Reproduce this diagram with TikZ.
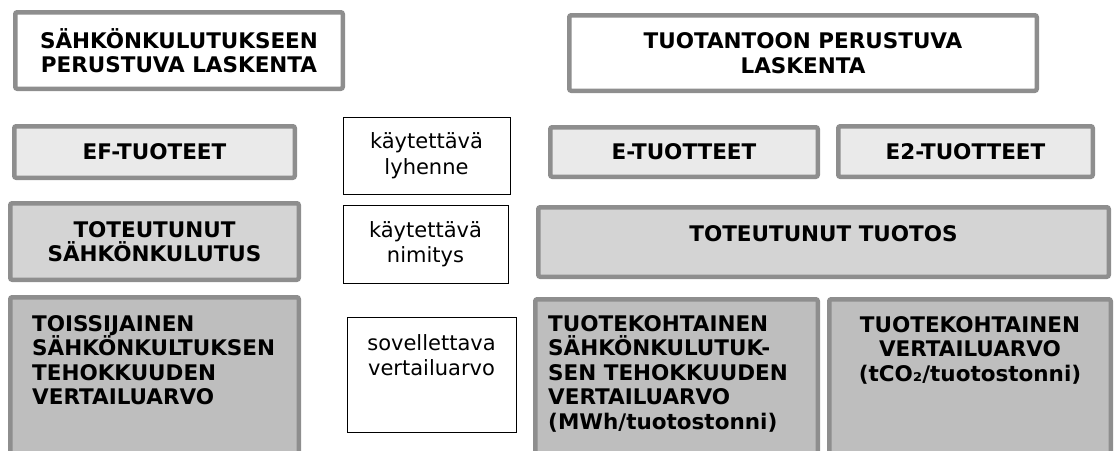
\documentclass[tikz,border=0pt]{standalone}
\usepackage{fontspec}
\setmainfont{DejaVu Sans}
\definecolor{rim}{HTML}{8E8E8E}
\definecolor{shadeA}{HTML}{EAEAEA}
\definecolor{shadeB}{HTML}{D4D4D4}
\definecolor{shadeC}{HTML}{BEBEBE}
\tikzset{
  heavy/.style={draw=rim, line width=4.5pt, rounded corners=2pt, inner sep=0pt,
    align=center, font=\fontsize{21.5}{24.5}\selectfont\bfseries},
  tier0/.style={heavy, fill=white},
  tier1/.style={heavy, fill=shadeA},
  tier2/.style={heavy, fill=shadeB},
  tier3/.style={heavy, fill=shadeC},
  keybox/.style={draw=black, line width=0.9pt, fill=white, inner sep=0pt,
    align=center, font=\fontsize{21}{25.5}\selectfont},
  keytext/.style={inner sep=0pt, align=center, font=\fontsize{21}{25.5}\selectfont},
  boldtext/.style={inner sep=0pt, font=\fontsize{21.5}{24.5}\selectfont\bfseries},
}

\begin{document}
\begin{tikzpicture}[x=1pt, y=-1pt]
\useasboundingbox (0,0) rectangle (1114,450);
\clip (0,0) rectangle (1114,450);

% left column: electricity based
\node[tier0, minimum width=327.5pt, minimum height=76.5pt] (elbase) at (179,50.5)
     {SÄHKÖNKULUTUKSEEN\\PERUSTUVA LASKENTA};
\node[tier1, minimum width=280.5pt, minimum height=51.5pt] (efprod) at (154.5,152)
     {EF-TUOTEET};
\node[tier2, minimum width=288.5pt, minimum height=76.5pt] (elreal) at (154.5,241.5)
     {TOTEUTUNUT\\SÄHKÖNKULUTUS};
\node[tier3, minimum width=288.5pt, minimum height=170.5pt] (elbench) at (154.5,382.5) {};
\node[boldtext, anchor=north west, align=left] (elbenchtext) at (32,315)
     {TOISSIJAINEN\\SÄHKÖNKULTUKSEN\\TEHOKKUUDEN\\VERTAILUARVO};

% middle column: key
\node[keybox, minimum width=167pt, minimum height=77pt] (keyabbr) at (426.5,155.5)
     {käytettävä\\lyhenne};
\node[keybox, minimum width=165pt, minimum height=78pt] (keyname) at (425.5,244)
     {käytettävä\\nimitys};
\node[keybox, minimum width=169pt, minimum height=115pt] (keybench) at (431.5,374.5) {};
\node[keytext, anchor=north] (keybenchtext) at (431.5,334)
     {sovellettava\\vertailuarvo};

% right column: production based
\node[tier0, minimum width=467.5pt, minimum height=75.5pt] (prodbase) at (803,53)
     {TUOTANTOON PERUSTUVA\\LASKENTA};
\node[tier1, minimum width=267.5pt, minimum height=49.5pt] (eprod) at (684,152)
     {E-TUOTTEET};
\node[tier1, minimum width=254.5pt, minimum height=50.5pt] (etwoprod) at (965.5,151.5)
     {E2-TUOTTEET};
\node[tier2, minimum width=570.5pt, minimum height=69.5pt] (prodreal) at (823.5,242) {};
\node[boldtext, anchor=north] (prodrealtext) at (823.5,225)
     {TOTEUTUNUT TUOTOS};
\node[tier3, minimum width=282.5pt, minimum height=168.5pt] (elprodbench) at (676.5,383.5) {};
\node[boldtext, anchor=north west, align=left] (elprodbenchtext) at (548,315)
     {TUOTEKOHTAINEN\\SÄHKÖNKULUTUK-\\SEN TEHOKKUUDEN\\VERTAILUARVO\\(MWh/tuotostonni)};
\node[tier3, minimum width=281.5pt, minimum height=168.5pt] (co2bench) at (970,383.5) {};
\node[boldtext, anchor=north, align=center] (co2benchtext) at (970,316)
     {TUOTEKOHTAINEN\\VERTAILUARVO\\(tCO₂/tuotostonni)};

\end{tikzpicture}
\end{document}
